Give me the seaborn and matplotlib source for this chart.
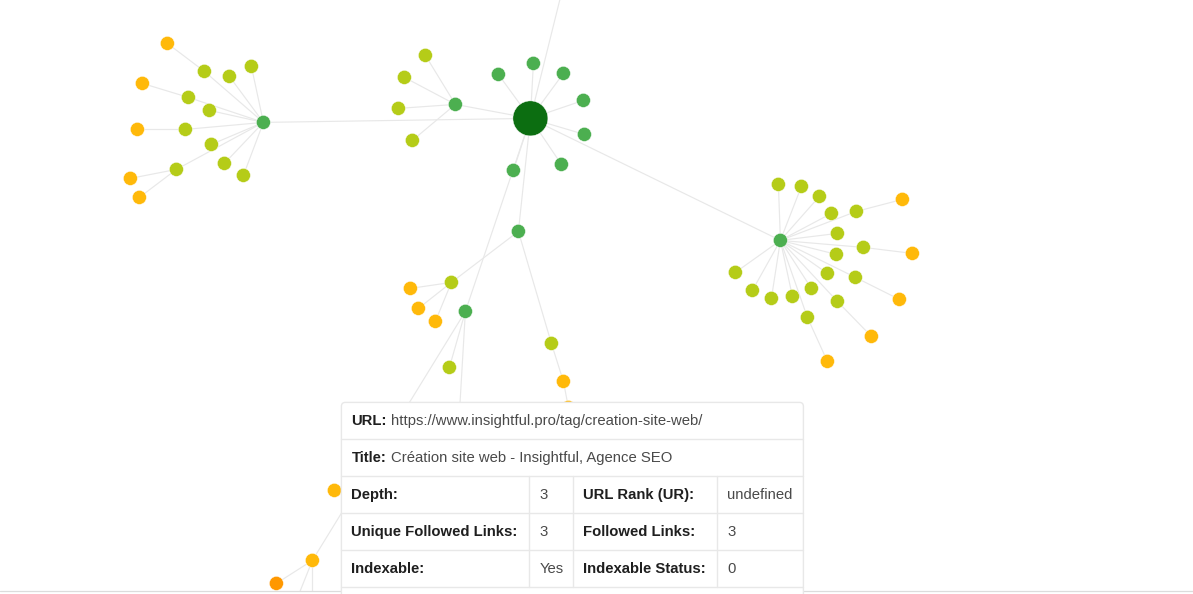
import matplotlib
matplotlib.use("Agg")
import matplotlib.pyplot as plt
import pandas as pd
import seaborn as sns
from matplotlib.patches import FancyBboxPatch, Rectangle

sns.set_theme(style="white")
plt.rcParams['font.family'] = ['Liberation Sans', 'DejaVu Sans']

# Node positions (pixel-like graph layout)
node_x = [530, 498, 533, 563, 583, 584, 561, 513, 455, 263, 780, 518, 465,
          425, 404, 398, 412,
          167, 204, 229, 251, 142, 188, 209, 137, 185, 211, 130, 176, 224, 243, 139,
          778, 801, 819, 831, 856, 902, 837, 863, 912, 836, 735, 752, 771, 792, 811, 827, 855, 899, 837, 871, 807, 827,
          451, 410, 418, 435, 449, 551, 563, 568, 334, 312, 276,
          563, 458, 296, 312]
node_y = [118, 74, 63, 73, 100, 134, 164, 170, 104, 122, 240, 231, 311,
          55, 77, 108, 140,
          43, 71, 76, 66, 83, 97, 110, 129, 129, 144, 178, 169, 163, 175, 197,
          184, 186, 196, 213, 211, 199, 233, 247, 253, 254, 272, 290, 298, 296, 288, 273, 277, 299, 301, 336, 317, 361,
          282, 288, 308, 321, 367, 343, 381, 407, 490, 560, 583,
          -15, 430, 600, 600]
node_group = ["root"] + ["inner"] * 12 + ["mid"] * 4 \
    + ["far", "mid", "mid", "mid", "far", "mid", "mid", "far", "mid", "mid", "far", "mid", "mid", "mid", "far"] \
    + ["mid", "mid", "mid", "mid", "mid", "far", "mid", "mid", "far", "mid", "mid", "mid", "mid", "mid", "mid",
       "mid", "mid", "far", "mid", "far", "mid", "far"] \
    + ["mid", "far", "far", "far", "mid", "mid", "far", "far", "far", "far", "deep",
       "far", "far", "far", "far"]

# Links between nodes (indices into the lists above)
edge_src = [0] * 12 + [0] + [8] * 4 \
    + [18, 9, 9, 9, 22, 9, 9, 25, 9, 9, 28, 9, 9, 9, 28] \
    + [10, 10, 10, 10, 10, 36, 10, 10, 39, 10, 10, 10, 10, 10, 10, 10, 10, 48, 10, 50, 10, 52] \
    + [11, 54, 54, 54, 12, 11, 59, 60, 12, 63, 63, 63, 12, 66]
edge_dst = [1, 2, 3, 4, 5, 6, 7, 8, 9, 10, 11, 12] + [65] + [13, 14, 15, 16] \
    + [17, 18, 19, 20, 21, 22, 23, 24, 25, 26, 27, 28, 29, 30, 31] \
    + [32, 33, 34, 35, 36, 37, 38, 39, 40, 41, 42, 43, 44, 45, 46, 47, 48, 49, 50, 51, 52, 53] \
    + [54, 55, 56, 57, 58, 59, 60, 61, 63, 64, 67, 68, 66, 62]

url_label, url_value = "URL:", "https://www.insightful.pro/tag/creation-site-web/"
title_label, title_value = "Title:", "Création site web - Insightful, Agence SEO"
left_labels = ["Depth:", "Unique Followed Links:", "Indexable:"]
left_values = ["3", "3", "Yes"]
right_labels = ["URL Rank (UR):", "Followed Links:", "Indexable Status:"]
right_values = ["undefined", "3", "0"]

GROUP_COLORS = {"root": "#0c6e11", "inner": "#4caf50", "mid": "#b5cc18",
                "far": "#ffb90a", "deep": "#ff9800"}
GROUP_SIZES = {"root": 635, "inner": 102, "mid": 102, "far": 102, "deep": 102}

nodes = pd.DataFrame({"x": node_x, "y": node_y, "group": node_group})

fig = plt.figure(figsize=(11.93, 5.94), dpi=100, facecolor="white")
ax = fig.add_axes([0, 0, 1, 1])
ax.axis("off")

for s, d in zip(edge_src, edge_dst):
    ax.plot([node_x[s], node_x[d]], [node_y[s], node_y[d]],
            color="#e8e8e8", lw=0.85, zorder=1, solid_capstyle="butt")

sns.scatterplot(data=nodes, x="x", y="y", hue="group", size="group",
                palette=GROUP_COLORS, sizes=GROUP_SIZES, legend=False,
                edgecolor="white", linewidth=0.3, ax=ax, zorder=2)
ax.set_xlim(-0.4, 1192.6)
ax.set_ylim(593.6, -0.4)
ax.set_xlabel("")
ax.set_ylabel("")

# Strip below the page edge line
ax.add_patch(Rectangle((0, 591), 1193, 5, fc="white", ec="none", zorder=3))
ax.plot([0, 1193], [591, 591], color="#dcdcdc", lw=0.9, zorder=3.5)

# Tooltip table
T, B, L, R = 402, 610, 341, 803
BORDER = "#e8e8e8"
ax.add_patch(FancyBboxPatch((L, T), R - L, B - T, boxstyle="round,pad=0,rounding_size=4",
                            fc="white", ec=BORDER, lw=1, zorder=4))
rows = [439, 476, 513, 550, 587]
for r in rows:
    ax.plot([L, R], [r, r], color=BORDER, lw=1, zorder=5)
for c in [529, 573, 717]:
    ax.plot([c, c], [476, 587], color=BORDER, lw=1, zorder=5)

FS = 10.75
DARK, GREY = "#1f1f1f", "#4a4a4a"


def put(x, y, s, bold=False):
    ax.text(x, y, s, fontsize=FS, fontweight="bold" if bold else "normal",
            color=DARK if bold else GREY, va="center", ha="left", zorder=6)


put(351, 421, url_label, True)
put(390.5, 421, url_value)
put(351, 458, title_label, True)
put(390.5, 458, title_value)
for i, y in enumerate([495, 532, 569]):
    put(351, y, left_labels[i], True)
    put(539, y, left_values[i])
    put(583, y, right_labels[i], True)
    put(727, y, right_values[i])

fig.savefig("out.png", dpi=100, facecolor="white")
